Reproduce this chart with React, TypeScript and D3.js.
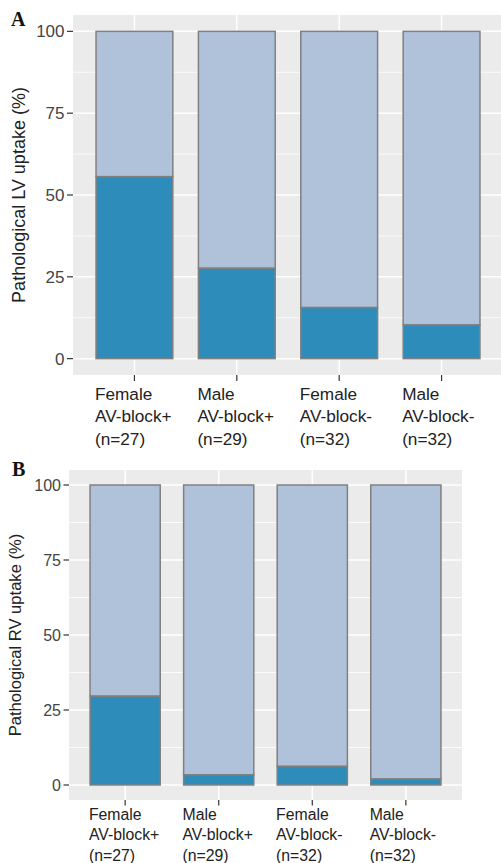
import React from "react";
import * as d3 from "d3";

const categoryLabels: string[][] = [
  ["Female", "AV-block+", "(n=27)"],
  ["Male", "AV-block+", "(n=29)"],
  ["Female", "AV-block-", "(n=32)"],
  ["Male", "AV-block-", "(n=32)"],
];
const lvPathological = [55.6, 27.6, 15.6, 10.3];
const rvPathological = [29.6, 3.4, 6.2, 2.0];
const yTicks = [0, 25, 50, 75, 100];
const yMinor = [12.5, 37.5, 62.5, 87.5];
const panelLetters = ["A", "B"];
const yTitles = ["Pathological LV uptake (%)", "Pathological RV uptake (%)"];

const DARK = "#2E8CBA";
const LIGHT = "#B0C1DA";
const STROKE = "#808080";
const FONT = "'Liberation Sans', Arial, Helvetica, sans-serif";

type Layout = {
  left: number; right: number; top: number; bottom: number;
  tickFs: number; labFs: number; titleFs: number; titleX: number;
  labTop: number; labGap: number; letterX: number; letterY: number; tickLen: number;
};

const layouts: Layout[] = [
  { left: 73, right: 503, top: 15, bottom: 375, tickFs: 17, labFs: 17.2, titleFs: 18, titleX: 24.5,
    labTop: 399.5, labGap: 22.5, letterX: 11, letterY: 26, tickLen: 6 },
  { left: 69, right: 462, top: 470, bottom: 800, tickFs: 16, labFs: 15.8, titleFs: 16.6, titleX: 21,
    labTop: 819.5, labGap: 20.5, letterX: 12, letterY: 475.5, tickLen: 5.5 },
];

function Panel({ values, L, letter, title }: { values: number[]; L: Layout; letter: string; title: string }) {
  const x = d3.scaleBand<number>().domain(values.map((_, i) => i)).range([L.left, L.right]).paddingInner(0).paddingOuter(0.1);
  const y = d3.scaleLinear().domain([-5, 105]).range([L.bottom, L.top]);
  const step = x.step();
  const bw = step * 0.75;
  const cx = (i: number) => (x(i) as number) + x.bandwidth() / 2;
  const half = (L.labFs * 4.585) / 2;
  return (
    <g>
      <rect x={L.left} y={L.top} width={L.right - L.left} height={L.bottom - L.top} fill="#EBEBEB" />
      {yMinor.map((t) => (
        <line key={"m" + t} x1={L.left} x2={L.right} y1={y(t)} y2={y(t)} stroke="#fff" strokeWidth={0.8} />
      ))}
      {yTicks.map((t) => (
        <line key={"g" + t} x1={L.left} x2={L.right} y1={y(t)} y2={y(t)} stroke="#fff" strokeWidth={1.5} />
      ))}
      {values.map((_, i) => (
        <line key={"v" + i} x1={cx(i)} x2={cx(i)} y1={L.top} y2={L.bottom} stroke="#fff" strokeWidth={1.5} />
      ))}
      {values.map((v, i) => (
        <g key={"b" + i}>
          <rect x={cx(i) - bw / 2} y={y(100)} width={bw} height={y(v) - y(100)} fill={LIGHT} stroke={STROKE} strokeWidth={1.5} />
          <rect x={cx(i) - bw / 2} y={y(v)} width={bw} height={y(0) - y(v)} fill={DARK} stroke={STROKE} strokeWidth={1.5} />
        </g>
      ))}
      {yTicks.map((t) => (
        <g key={"t" + t}>
          <line x1={L.left - L.tickLen} x2={L.left} y1={y(t)} y2={y(t)} stroke="#333" strokeWidth={1.2} />
          <text x={L.left - L.tickLen - 2.5} y={y(t)} dy="0.36em" textAnchor="end" fontSize={L.tickFs} fill="#444" fontFamily={FONT}>
            {t}
          </text>
        </g>
      ))}
      {values.map((_, i) => (
        <g key={"x" + i}>
          <line x1={cx(i)} x2={cx(i)} y1={L.bottom} y2={L.bottom + L.tickLen} stroke="#333" strokeWidth={1.2} />
          {categoryLabels[i].map((ln, j) => (
            <text key={j} x={cx(i) - half} y={L.labTop + j * L.labGap} fontSize={L.labFs} fill="#222" fontFamily={FONT}>
              {ln}
            </text>
          ))}
        </g>
      ))}
      <text
        transform={`translate(${L.titleX},${(L.top + L.bottom) / 2}) rotate(-90)`}
        textAnchor="middle"
        fontSize={L.titleFs}
        fill="#222"
        fontFamily={FONT}
      >
        {title}
      </text>
      <text x={L.letterX} y={L.letterY} fontSize={20} fontWeight="bold" fontFamily="'Liberation Serif', 'Times New Roman', serif" fill="#111">
        {letter}
      </text>
    </g>
  );
}

export default function App() {
  return (
    <div style={{ position: "absolute", left: 0, top: 0 }}>
      <svg width={501} height={863} style={{ display: "block", background: "#fff" }}>
        <Panel values={lvPathological} L={layouts[0]} letter={panelLetters[0]} title={yTitles[0]} />
        <Panel values={rvPathological} L={layouts[1]} letter={panelLetters[1]} title={yTitles[1]} />
      </svg>
    </div>
  );
}
